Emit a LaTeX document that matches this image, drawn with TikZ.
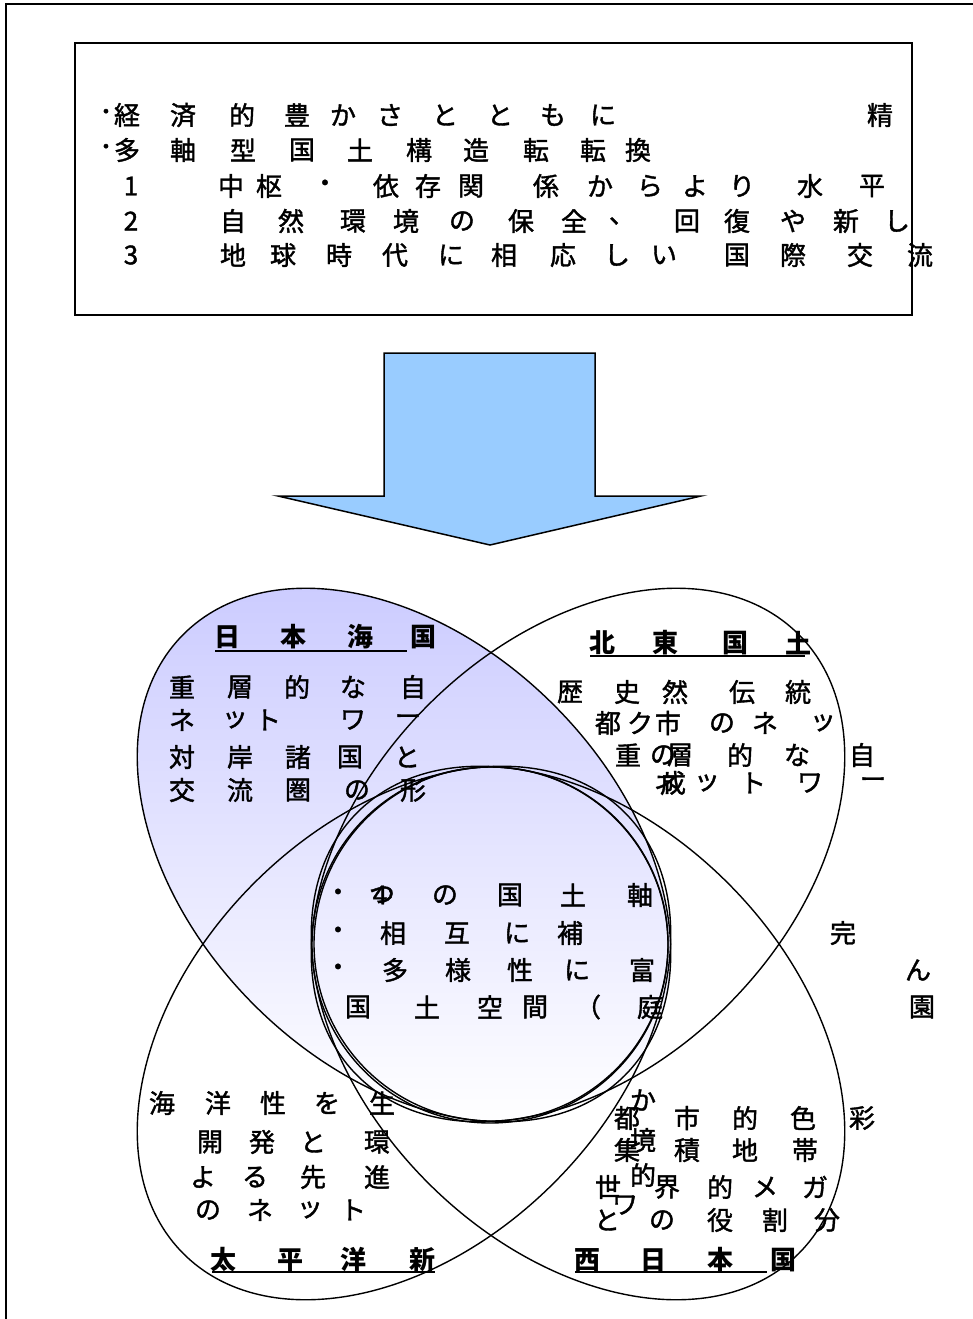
\documentclass[tikz,border=0pt]{standalone}
\usepackage{fontspec}
\setmainfont{Noto Sans CJK JP}
\newfontfamily\jpreg{Noto Sans CJK JP}[FakeBold=1.5]
\definecolor{lav}{RGB}{204,204,255}
\definecolor{arrowblue}{RGB}{153,204,255}
\newcommand\crow[3][ch]{\foreach \px/\cc in {#3}{\node[#1] (n-\px-#2) at (\px,#2) {\cc};}}
\begin{document}
\begin{tikzpicture}[x=1pt,y=-1pt,
  ch/.style={inner sep=0pt,font=\fontsize{26}{26}\selectfont\jpreg},
  tt/.style={inner sep=0pt,font=\fontsize{26}{26}\selectfont\bfseries},
  ell/.style={draw=black,line width=1.4pt},
  uline/.style={line width=1.8pt}]
\useasboundingbox (0,0) rectangle (973,1319);
\clip (0,0) rectangle (973,1319);
\fill[white] (0,0) rectangle (973,1319);
% outer frame (cut by the page at right and bottom)
\draw[line width=2.5pt] (6,4) rectangle (1000,1400);
% top box
\draw[line width=2pt] (75,43) rectangle (912,315);
\crow{115}{106/･,127/経,183/済,242/的,297/豊,343/か,390/さ,445/と,500/と,553/も,603/に,880/精}
\crow{150}{106/･,127/多,183/軸,243/型,302/国,360/土,419/構,476/造,536/転,593/転,638/換}
\crow{186}{131/1,231/中,269/枢,325/・,386/依,428/存,471/関,546/係,600/か,650/ら,695/よ,742/り,810/水,872/平}
\crow{221}{131/2,233/自,291/然,353/環,406/境,462/の,521/保,574/全,622/、,687/回,737/復,793/や,846/新,897/し}
\crow{255}{131/3,233/地,283/球,339/時,395/代,451/に,504/相,563/応,617/し,664/い,737/国,793/際,860/交,920/流}
% arrow
\draw[line width=1.5pt,fill=arrowblue,line join=miter] (384,353) -- (595,353) -- (595,496) -- (701,496) -- (490,545) -- (278,496) -- (384,496) -- cycle;
% shading
\begin{scope}
\clip[rotate around={-45:(404,855)}] (404,855) ellipse [x radius=312, y radius=212];
\shade[top color=lav, bottom color=white] (120,586) rectangle (690,1125);
\end{scope}
\begin{scope}
\clip (490,945) circle (178);
\shade[top color=lav, bottom color=white] (300,586) rectangle (690,1125);
\end{scope}
% outlines
\draw[ell, rotate around={-45:(404,855)}] (404,855) ellipse [x radius=312, y radius=212];
\draw[ell, rotate around={45:(578,855)}] (578,855) ellipse [x radius=312, y radius=212];
\draw[ell, rotate around={45:(404,1033)}] (404,1033) ellipse [x radius=312, y radius=212];
\draw[ell, rotate around={-45:(578,1033)}] (578,1033) ellipse [x radius=312, y radius=212];
\draw[ell] (490,945) circle (178);
\draw[ell] (491,944) circle (177);
% NW
\crow[tt]{637}{227/日,293/本,360/海,423/国}
\draw[uline] (215,651) -- (407,651);
\crow{687}{182/重,240/層,297/的,353/な,413/自}
\crow{720}{182/ネ,235/ッ,268/ト,353/ワ,408/ー}
\crow{757}{182/対,240/岸,298/諸,350/国,407/と}
\crow{790}{182/交,240/流,298/圏,357/の,413/形}
% NE
\crow[tt]{643}{602/北,665/東,735/国,798/土}
\draw[uline] (590,656) -- (805,656);
\crow{692}{570/歴,627/史,675/然,742/伝,798/統}
\crow{723}{608/都,640/ク,668/市,722/の,765/ネ,823/ッ}
\crow{755}{628/重,663/の,680/層,740/的,797/な,862/自}
\crow{783}{667/ネ,673/成,707/ッ,753/ト,810/ワ,873/ー}
% centre
\crow{895}{338/・,380/4,382/つ,445/の,510/国,573/土,640/軸}
\crow{933}{338/・,393/相,457/互,517/に,570/補,843/完}
\crow{970}{338/・,395/多,458/様,520/性,577/に,642/富,918/ん}
\crow{1007}{358/国,427/土,490/空,535/間,588/（,650/庭,922/園}
% SW
\crow{1103}{162/海,218/洋,273/性,327/を,382/生}
\crow{1142}{210/開,262/発,313/と,377/環}
\crow{1177}{203/よ,255/る,313/先,377/進}
\crow{1210}{208/の,260/ネ,310/ッ,353/ト}
\crow[tt]{1260}{223/太,290/平,353/洋,422/新}
\draw[uline] (212,1272) -- (435,1272);
% SE
\crow{1118}{627/都,687/市,745/的,803/色,862/彩}
\crow{1150}{627/集,687/積,745/地,805/帯}
\crow{1187}{608/世,667/界,720/的,765/メ,815/ガ}
\crow{1220}{607/と,662/の,720/役,775/割,827/分}
\crow{1100}{643/か}
\crow{1140}{643/境}
\crow{1175}{643/的}
\crow{1205}{625/ワ}
\crow[tt]{1260}{587/西,653/日,720/本,783/国}
\draw[uline] (575,1272) -- (767,1272);
\end{tikzpicture}
\end{document}
